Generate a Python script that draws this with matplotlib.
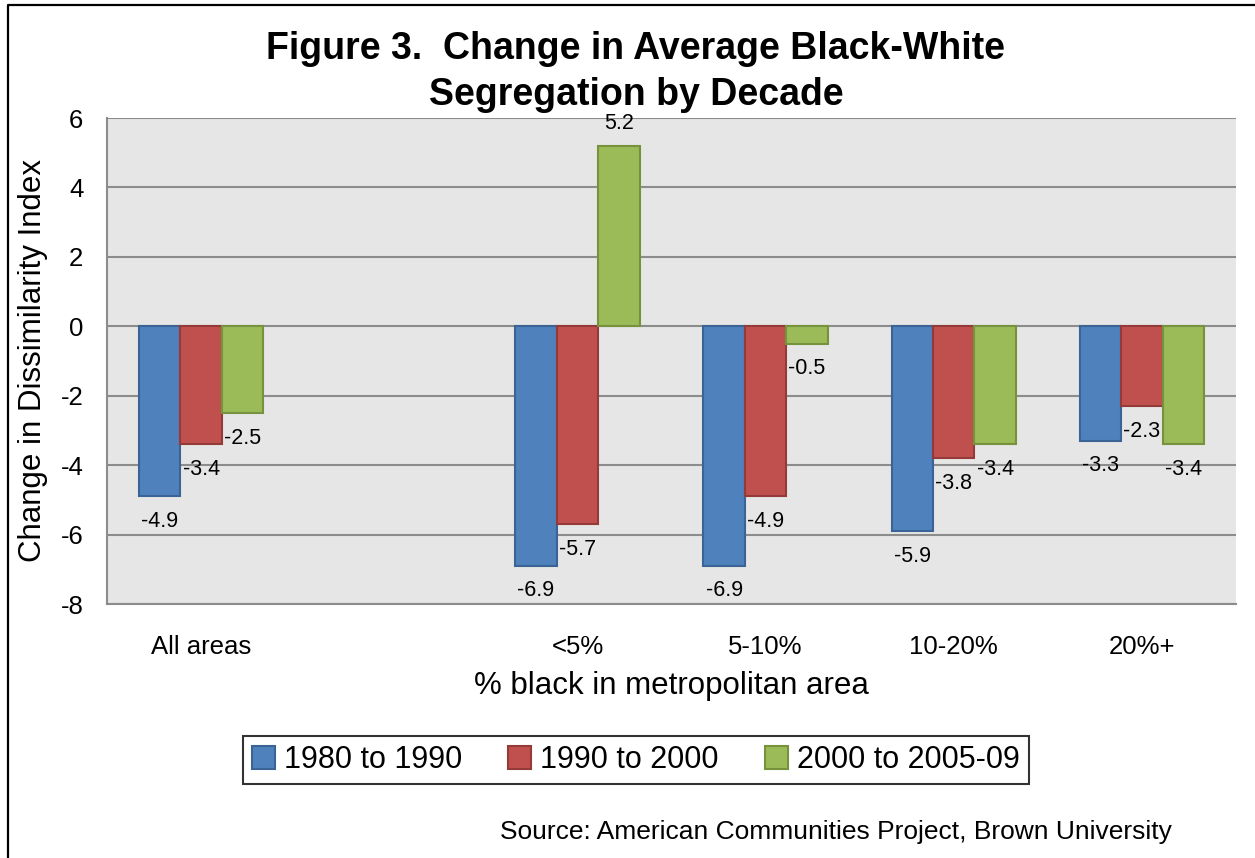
import numpy as np
import matplotlib
matplotlib.use("Agg")
import matplotlib.pyplot as plt
from matplotlib.lines import Line2D

plt.rcParams['font.family'] = ['Liberation Sans', 'DejaVu Sans']

# categories on the x axis (second slot is left empty like in the source chart)
categories = ["All areas", "", "<5%", "5-10%", "10-20%", "20%+"]
series_names = ["1980 to 1990", "1990 to 2000", "2000 to 2005-09"]
vals_1980 = [-4.9, None, -6.9, -6.9, -5.9, -3.3]
vals_1990 = [-3.4, None, -5.7, -4.9, -3.8, -2.3]
vals_2000 = [-2.5, None, 5.2, -0.5, -3.4, -3.4]
yticks = [-8, -6, -4, -2, 0, 2, 4, 6]

colors = ["#4F81BD", "#C0504D", "#9BBB59"]
edges = ["#3A6496", "#943A38", "#76923C"]

fig = plt.figure(figsize=(12.55, 8.58), dpi=100)
ax = fig.add_axes([107/1255, 1-604/858, 1129/1255, 486/858])
ax.set_facecolor("#E6E6E6")

width = 0.22
x = np.arange(len(categories))
for k, vals in enumerate([vals_1980, vals_1990, vals_2000]):
    xs = [x[i] + (k-1)*width for i in range(len(vals)) if vals[i] is not None]
    ys = [v for v in vals if v is not None]
    ax.bar(xs, ys, width, color=colors[k], edgecolor=edges[k], linewidth=1.5,
           label=series_names[k], zorder=3)
    for xi, yi in zip(xs, ys):
        off = 16 if yi > 0 else -18
        ax.annotate(f"{yi:.1f}", (xi, yi), xytext=(0, off), textcoords="offset points",
                    ha="center", va="center", fontsize=15.5, zorder=4)

ax.set_xlim(-0.5, len(categories)-0.5)
ax.set_ylim(-8, 6)
ax.set_yticks(yticks)
ax.set_yticklabels([str(t) for t in yticks])
ax.set_xticks(x)
ax.set_xticklabels(categories)
ax.tick_params(axis="x", length=0, pad=22, labelsize=18.5)
ax.tick_params(axis="y", length=0, pad=17, labelsize=18.5)
ax.grid(axis="y", color="#8C8C8C", linewidth=1.5, zorder=1)
ax.set_axisbelow(True)
for s in ["top", "right"]:
    ax.spines[s].set_visible(False)
ax.spines["left"].set_color("#8C8C8C")
ax.spines["left"].set_linewidth(1.5)
ax.spines["bottom"].set_color("#8C8C8C")
ax.spines["bottom"].set_linewidth(1.5)

ax.set_ylabel("Change in Dissimilarity Index", fontsize=22.5)
ax.yaxis.set_label_coords(-0.052, 0.5)
ax.set_xlabel("% black in metropolitan area", fontsize=22.5)
ax.xaxis.set_label_coords(0.5, -0.138)

fig.text(636/1255, 1-72/858, "Figure 3.  Change in Average Black-White\nSegregation by Decade",
         ha="center", va="center", fontsize=27, fontweight="bold", linespacing=1.38)

leg = ax.legend(loc="center", bbox_to_anchor=(636/1255, 1-760/858), bbox_transform=fig.transFigure,
                ncol=3, fontsize=22, frameon=True, fancybox=False, handlelength=0.75,
                handleheight=0.75, handletextpad=0.3, columnspacing=1.5, borderpad=0.3)
leg.get_frame().set_edgecolor("black")
leg.get_frame().set_linewidth(1.5)

fig.text(1172/1255, 1-832/858, "Source: American Communities Project, Brown University",
         ha="right", va="center", fontsize=19)

# outer chart border (left and top)
fig.add_artist(Line2D([8/1255, 8/1255, 1.0], [0, 1-5/858, 1-5/858], color="black",
                      linewidth=1.6, transform=fig.transFigure))

fig.savefig("out.png", dpi=100)
